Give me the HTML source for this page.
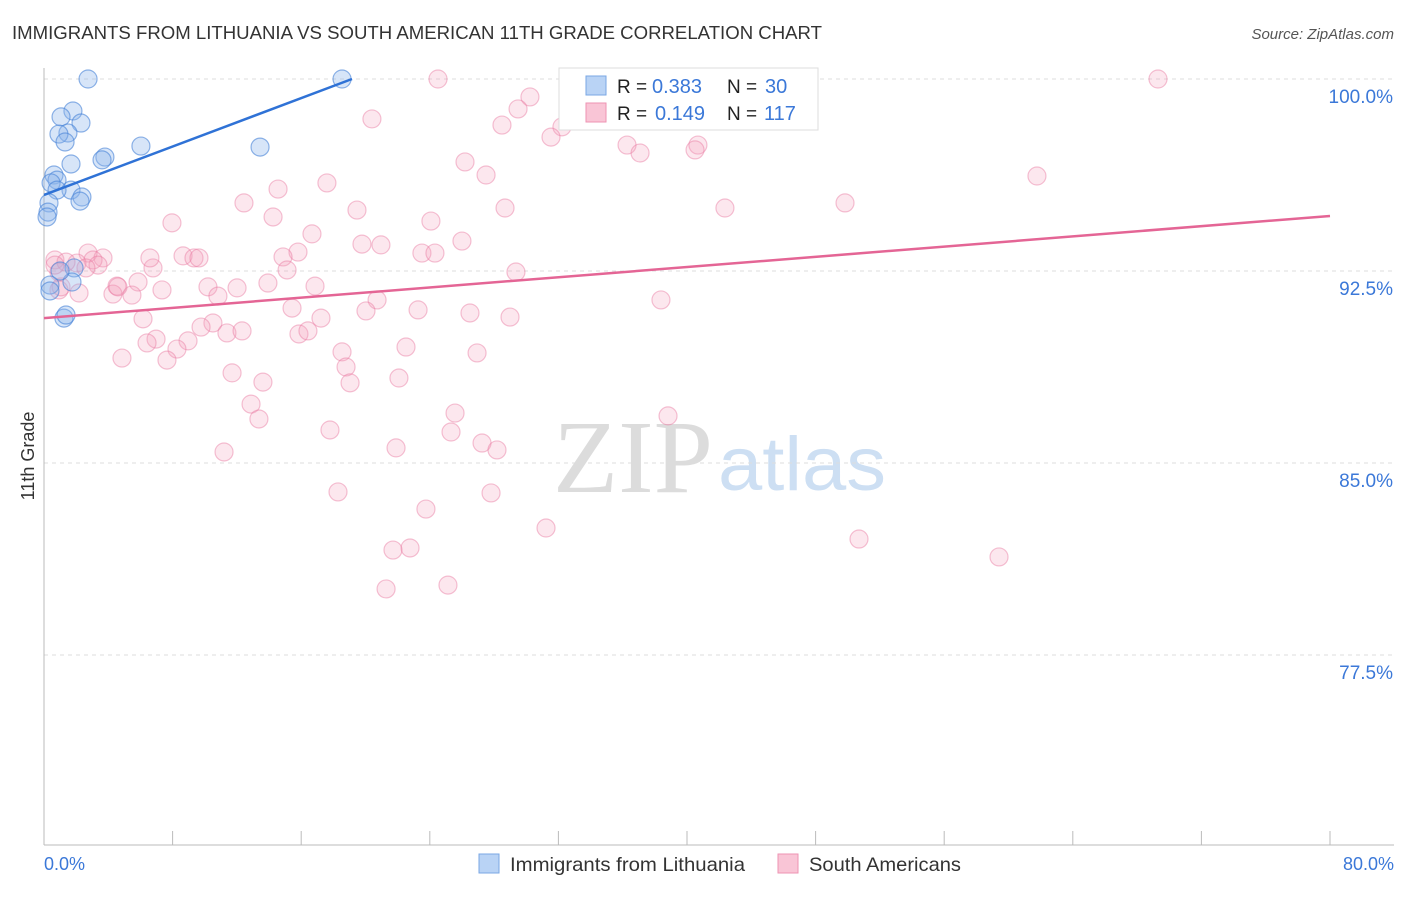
<!DOCTYPE html>
<html><head><meta charset="utf-8"><style>
body{margin:0;background:#fff;font-family:"Liberation Sans",sans-serif}
#c{position:relative;width:1406px;height:892px}
</style></head><body>
<div id="c">
<svg id="s" width="1406" height="892" xmlns="http://www.w3.org/2000/svg">
<text x="12" y="39" font-size="18" fill="#333" textLength="810" lengthAdjust="spacingAndGlyphs">IMMIGRANTS FROM LITHUANIA VS SOUTH AMERICAN 11TH GRADE CORRELATION CHART</text>
<text x="1394" y="39" font-size="15" fill="#555" font-style="italic" text-anchor="end">Source: ZipAtlas.com</text>
<text x="553" y="492" font-size="104" fill="#dcdcdc" font-family="Liberation Serif,serif" textLength="160" lengthAdjust="spacingAndGlyphs">ZIP</text>
<text x="718" y="490" font-size="76" fill="#cddff3" textLength="168" lengthAdjust="spacingAndGlyphs">atlas</text>
<g id="grid"></g><g id="axes"></g><g id="pink"></g><g id="blue"></g><g id="lines"></g>
<text transform="translate(34,456) rotate(-90)" font-size="18" fill="#333" text-anchor="middle">11th Grade</text>
<text x="44" y="870" font-size="18" fill="#3b78d8">0.0%</text>
<text x="1394" y="870" font-size="18" fill="#3b78d8" text-anchor="end">80.0%</text>
<g>
<rect x="559" y="68" width="259" height="62" fill="#fff" stroke="#ddd"/>
<rect x="586" y="76" width="20" height="19" fill="#b9d3f5" stroke="#7aa7e4"/>
<rect x="586" y="103" width="20" height="19" fill="#f9c5d6" stroke="#ee93b3"/>
<text x="617" y="93" font-size="19" fill="#222">R =</text>
<text x="652" y="93" font-size="20" fill="#3b78d8">0.383</text>
<text x="727" y="93" font-size="19" fill="#222">N =</text>
<text x="765" y="93" font-size="20" fill="#3b78d8">30</text>
<text x="617" y="120" font-size="19" fill="#222">R =</text>
<text x="655" y="120" font-size="20" fill="#3b78d8">0.149</text>
<text x="727" y="120" font-size="19" fill="#222">N =</text>
<text x="764" y="120" font-size="20" fill="#3b78d8">117</text>
</g>
<g>
<rect x="479" y="854" width="20" height="19" fill="#b9d3f5" stroke="#7aa7e4"/>
<text x="510" y="871" font-size="19.5" fill="#333" textLength="235" lengthAdjust="spacingAndGlyphs">Immigrants from Lithuania</text>
<rect x="778" y="854" width="20" height="19" fill="#f9c5d6" stroke="#ee93b3"/>
<text x="809" y="871" font-size="19.5" fill="#333" textLength="152" lengthAdjust="spacingAndGlyphs">South Americans</text>
</g>
</svg></div>
<script>
const yTicks=[100,92.5,85,77.5];
const xTickCount=10;
const blueX=[2.74,18.54,1.80,1.06,2.30,1.49,0.93,1.31,6.03,13.44,3.79,3.61,1.68,0.62,0.81,0.44,1.68,0.81,2.36,2.24,0.31,0.25,0.19,1.87,1.74,0.37,1.24,1.37,0.37,1.0];
const blueY=[100,100,98.75,98.52,98.28,97.89,97.85,97.54,97.38,97.34,96.95,96.84,96.68,96.25,96.05,95.94,95.66,95.66,95.39,95.23,95.16,94.80,94.61,92.62,92.07,91.95,90.66,90.78,91.72,92.5];
const pinkX=[24.51,32.66,69.30,30.23,29.49,20.40,28.49,32.22,31.54,36.27,40.68,37.08,40.50,26.19,27.50,61.77,17.60,14.56,12.44,19.47,28.68,42.36,49.83,14.25,24.07,7.96,16.67,26.00,19.78,20.96,15.80,23.51,24.32,8.65,9.33,9.64,14.87,2.74,3.67,3.05,2.05,0.68,1.37,3.36,2.61,6.78,15.12,29.36,5.85,4.54,7.34,10.20,12.01,13.93,16.86,5.47,4.29,0.93,2.18,10.82,20.72,38.38,15.43,20.03,23.27,26.50,28.99,6.16,17.23,10.51,9.77,11.38,12.32,15.86,16.42,6.97,6.41,8.96,8.27,22.52,18.54,26.94,7.65,4.85,18.79,11.70,19.04,13.62,22.08,12.88,25.57,38.82,13.37,17.79,25.32,27.25,28.18,21.90,11.20,18.29,27.81,23.76,31.23,50.70,22.77,21.71,59.41,21.28,25.13,1.06,0.93,0.68,6.59,4.60,35.55,41.06];
const pinkY=[100,100,100,99.30,98.83,98.44,98.20,98.13,97.73,97.42,97.42,97.11,97.23,96.76,96.25,96.21,95.94,95.70,95.16,94.88,94.96,94.96,95.16,94.61,94.45,94.38,93.95,93.67,93.55,93.52,93.24,93.20,93.20,93.09,93.01,93.01,93.05,93.20,93.01,92.93,92.81,92.93,92.85,92.73,92.62,92.62,92.54,92.46,92.07,91.91,91.76,91.88,91.84,92.03,91.91,91.56,91.60,91.76,91.64,91.52,91.37,91.37,91.05,90.94,90.98,90.86,90.70,90.63,90.66,90.47,90.31,90.08,90.16,90.04,90.16,89.84,89.69,89.77,89.45,89.53,89.34,89.30,89.02,89.10,88.75,88.52,88.13,88.16,88.32,87.30,86.95,86.84,86.72,86.29,86.21,85.78,85.51,85.59,85.43,83.87,83.83,83.20,82.46,82.03,81.68,81.60,81.33,80.08,80.23,91.88,92.46,92.73,93.01,91.88,98.48,98.59];
const blueTrend=[[0,95.47],[19.16,100]];
const pinkTrend=[[0,90.66],[80,94.65]];
const NS='http://www.w3.org/2000/svg';
const sx=v=>44+v/80*1286;
const sy=v=>79+(100-v)*25.6;
function mk(t,a,p){const e=document.createElementNS(NS,t);for(const k in a)e.setAttribute(k,a[k]);p.appendChild(e);return e;}
const grid=document.getElementById('grid');
yTicks.forEach(t=>{
 const l=mk('line',{x1:44,x2:1394,y1:sy(t),y2:sy(t),stroke:'#ddd','stroke-dasharray':'4,4'},grid);
 
 
 const tx=mk('text',{x:1393,y:sy(t)+24,'font-size':19,fill:'#3b78d8','text-anchor':'end'},grid);
 tx.textContent=t.toFixed(1)+'%';
 
 
});
const ax=document.getElementById('axes');
mk('line',{x1:44,x2:44,y1:68,y2:845,stroke:'#bbb'},ax);
mk('line',{x1:44,x2:1394,y1:845,y2:845,stroke:'#bbb'},ax);
for(let i=1;i<=xTickCount;i++){const x=sx(i*80/xTickCount);
 const t=mk('line',{x1:x,x2:x,y1:831,y2:845,stroke:'#bbb'},ax);
 
 }
const pg=document.getElementById('pink');
pinkX.forEach((x,i)=>{
 const c=mk('circle',{cx:sx(x),cy:sy(pinkY[i]),r:9,fill:'rgba(244,160,188,0.25)',stroke:'rgba(232,120,160,0.45)','stroke-width':1.2},pg);
 
 
});
const bg=document.getElementById('blue');
blueX.forEach((x,i)=>{
 const c=mk('circle',{cx:sx(x),cy:sy(blueY[i]),r:9,fill:'rgba(140,180,235,0.35)',stroke:'rgba(70,130,215,0.6)','stroke-width':1.2},bg);
 
 
});
const lg=document.getElementById('lines');
const bl=mk('line',{x1:sx(blueTrend[0][0]),y1:sy(blueTrend[0][1]),x2:sx(blueTrend[1][0]),y2:sy(blueTrend[1][1]),stroke:'#2f72d6','stroke-width':2.5},lg);


const pl=mk('line',{x1:sx(pinkTrend[0][0]),y1:sy(pinkTrend[0][1]),x2:sx(pinkTrend[1][0]),y2:sy(pinkTrend[1][1]),stroke:'#e46595','stroke-width':2.5},lg);


</script>
</body></html>
